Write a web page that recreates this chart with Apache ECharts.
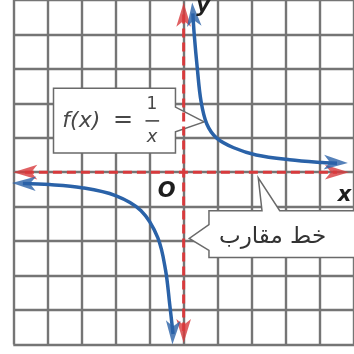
<!DOCTYPE html>
<html>
<head>
<meta charset="utf-8">
<script src="https://cdn.jsdelivr.net/npm/echarts@6/dist/echarts.min.js"></script>
<style>
  html, body { margin: 0; padding: 0; background: #fff; }
  #c { width: 354px; height: 354px; }
</style>
</head>
<body>
<div id="c"></div>
<script>
// Graph of f(x) = 1/x on a unit grid, with both asymptotes drawn as dashed axes.

// Grid extent (one cell per unit)
const xRange = [-5, 5];
const yRange = [-5, 5];

// Branch for x > 0
const upperX = [0.27, 0.31, 0.40, 0.51, 0.68, 0.97, 1.47, 2.13, 3.11, 4.07, 4.50];
const upperY = [4.61, 4.00, 3.02, 2.06, 1.40, 0.99, 0.71, 0.50, 0.36, 0.28, 0.26];

// Branch for x < 0
const lowerX = [-4.72, -3.94, -2.99, -2.00, -1.25, -0.76, -0.53, -0.41, -0.31];
const lowerY = [-0.33, -0.36, -0.45, -0.68, -1.12, -1.90, -2.85, -3.83, -4.70];

// Asymptotes y = 0 and x = 0
const hAsymX = [-4.66, 4.50];
const hAsymY = [0, 0];
const vAsymX = [0, 0];
const vAsymY = [4.58, -4.61];

// Arrow tips: [x, y, rotation in degrees]
const curveTips = [[0.25, 4.93, 5], [4.82, 0.27, -92], [-5.04, -0.31, 88], [-0.33, -5.0, 178]];
const axisTips = [[0, 4.92, 0], [0, -4.96, 180], [-5.0, 0, 90], [4.85, 0, -90]];

const BLUE = '#2a62a8';
const RED = '#d83a3c';
const ARROW_LEN = 24;
const ARROW_W = 11;

const zip = (xs, ys) => xs.map((x, i) => [x, ys[i]]);

const chart = echarts.init(document.getElementById('c'), null, { renderer: 'canvas' });

const gridLine = { show: true, lineStyle: { color: '#757575', width: 2.4 } };
const hiddenAxis = { axisLine: { show: false }, axisTick: { show: false }, axisLabel: { show: false }, splitLine: gridLine };

chart.setOption({
  animation: false,
  backgroundColor: '#fff',
  grid: { left: 13.3, top: -1.6, width: 346, height: 346, containLabel: false },
  xAxis: Object.assign({ type: 'value', min: xRange[0], max: xRange[1], interval: 1 }, hiddenAxis),
  yAxis: Object.assign({ type: 'value', min: yRange[0], max: yRange[1], interval: 1 }, hiddenAxis)
});

const toPx = v => chart.convertToPixel({ gridIndex: 0 }, v);

// The arrow symbol is drawn with its point on the data position
const arrowItem = (t, color) => ({ value: [t[0], t[1]], symbolRotate: t[2], itemStyle: { color: color } });

chart.setOption({
  series: [
    {
      type: 'line', data: zip(hAsymX, hAsymY), showSymbol: false, silent: true,
      lineStyle: { color: RED, width: 3, type: [9, 5] }, z: 3
    },
    {
      type: 'line', data: zip(vAsymX, vAsymY), showSymbol: false, silent: true,
      lineStyle: { color: RED, width: 3, type: [9, 5] }, z: 3
    },
    {
      type: 'scatter', symbol: 'arrow', symbolSize: [ARROW_W, ARROW_LEN], silent: true, clip: false,
      data: axisTips.map(t => arrowItem(t, RED)), z: 4
    },
    {
      type: 'line', data: zip(upperX, upperY), showSymbol: false, smooth: 0.35, silent: true,
      lineStyle: { color: BLUE, width: 3.5 }, z: 5
    },
    {
      type: 'line', data: zip(lowerX, lowerY), showSymbol: false, smooth: 0.35, silent: true,
      lineStyle: { color: BLUE, width: 3.5 }, z: 5
    },
    {
      type: 'scatter', symbol: 'arrow', symbolSize: [ARROW_W, ARROW_LEN], silent: true, clip: false,
      data: curveTips.map(t => arrowItem(t, BLUE)), z: 6
    }
  ]
});

// Callouts and axis names, placed in axis units
const fnCallout = [[-3.82, 2.44], [-0.24, 2.44], [-0.24, 1.89], [0.60, 1.46], [-0.24, 1.17], [-0.24, 0.56], [-3.82, 0.56]];
const asymCallout = [[0.743, -1.116], [2.30, -1.116], [2.19, -0.162], [2.82, -1.116], [5.31, -1.116], [5.31, -2.474],
                     [0.743, -2.474], [0.743, -2.27], [0.165, -1.925], [0.743, -1.52]];

const boxStyle = { fill: '#fff', stroke: '#6a6a6a', lineWidth: 1.5 };
const labelFont = 'italic bold 21px "DejaVu Sans"';
const INK = '#474747';

const fx = toPx([-3.56, 1.48]);
const eq = toPx([-1.78, 1.48]);
const one = toPx([-0.93, 1.95]);
const bar0 = toPx([-1.12, 1.49]), bar1 = toPx([-0.72, 1.49]);
const den = toPx([-0.93, 1.02]);
const arText = toPx([1.04, -1.87]);
const oPt = toPx([-0.50, -0.57]), xPt = toPx([4.72, -0.69]), yPt = toPx([0.57, 4.80]);

chart.setOption({
  graphic: [
    { type: 'polygon', z: 1, shape: { points: fnCallout.map(toPx) }, style: boxStyle },
    { type: 'polygon', z: 1, shape: { points: asymCallout.map(toPx) }, style: boxStyle },
    { type: 'text', z: 7, x: fx[0], y: fx[1],
      style: { text: 'f(x)', font: 'italic 22px "DejaVu Sans"', fill: INK, verticalAlign: 'middle', align: 'left' } },
    { type: 'text', z: 7, x: eq[0], y: eq[1],
      style: { text: '=', font: '24px "DejaVu Sans"', fill: INK, verticalAlign: 'middle', align: 'center' } },
    { type: 'text', z: 7, x: one[0], y: one[1],
      style: { text: '1', font: '17px "DejaVu Sans"', fill: INK, verticalAlign: 'middle', align: 'center' } },
    { type: 'line', z: 7, shape: { x1: bar0[0], y1: bar0[1], x2: bar1[0], y2: bar1[1] }, style: { stroke: INK, lineWidth: 1.6 } },
    { type: 'text', z: 7, x: den[0], y: den[1],
      style: { text: 'x', font: 'italic 18px "DejaVu Sans"', fill: INK, verticalAlign: 'middle', align: 'center' } },
    { type: 'text', z: 7, x: arText[0], y: arText[1],
      style: { text: 'خط مقارب', font: '23px "DejaVu Sans"', fill: '#333', verticalAlign: 'middle', align: 'left' } },
    { type: 'text', z: 7, x: oPt[0], y: oPt[1],
      style: { text: 'O', font: labelFont, fill: '#1e1e1e', verticalAlign: 'middle', align: 'center' } },
    { type: 'text', z: 7, x: xPt[0], y: xPt[1],
      style: { text: 'x', font: labelFont, fill: '#1e1e1e', verticalAlign: 'middle', align: 'center' } },
    { type: 'text', z: 7, x: yPt[0], y: yPt[1],
      style: { text: 'y', font: labelFont, fill: '#1e1e1e', verticalAlign: 'middle', align: 'center' } }
  ]
});
</script>
</body>
</html>
